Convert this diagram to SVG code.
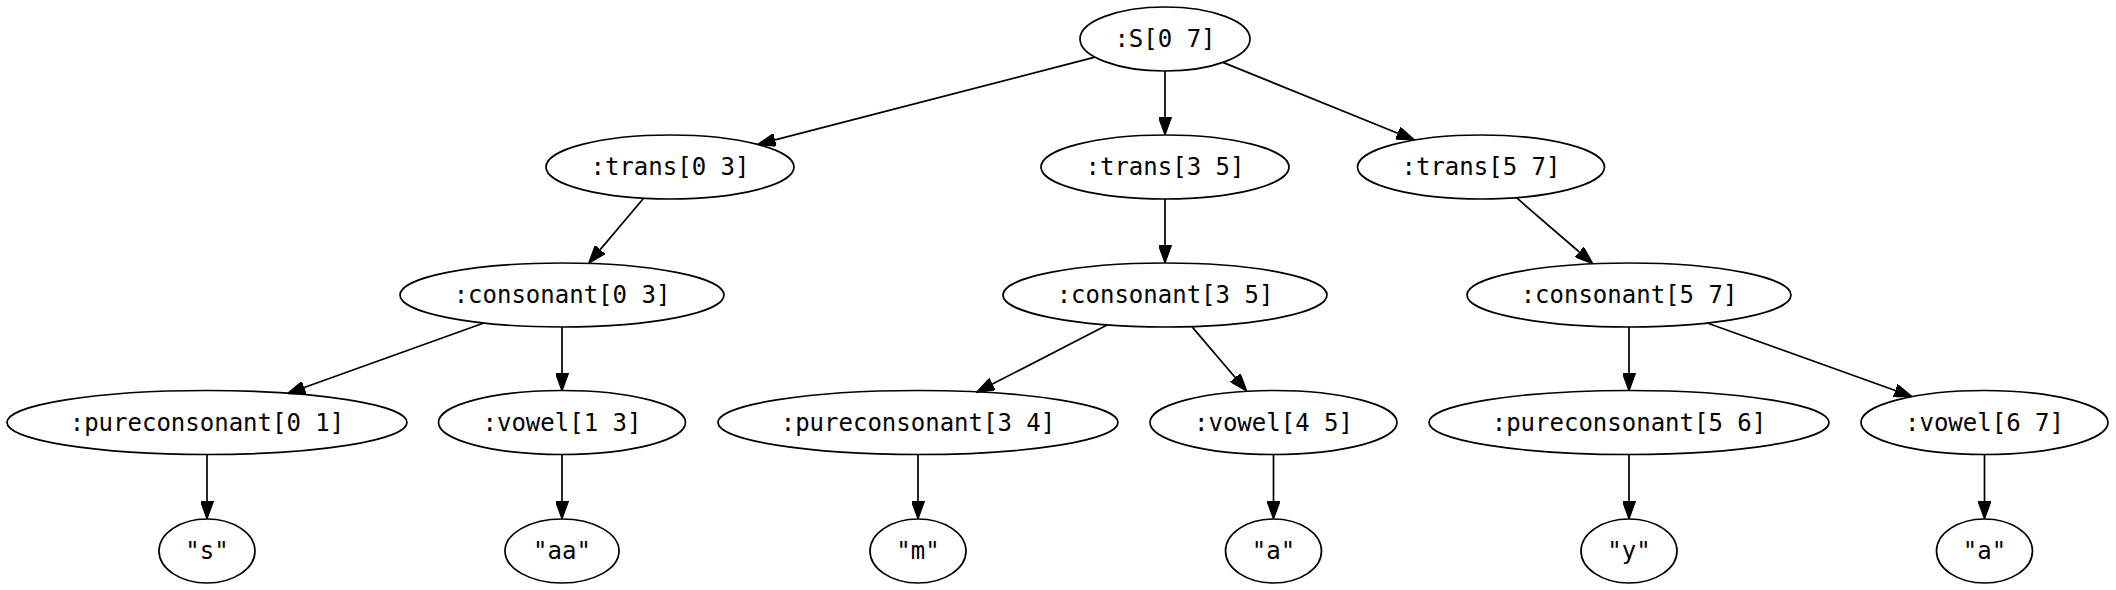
<svg xmlns="http://www.w3.org/2000/svg" width="2116" height="590" viewBox="0 0 2116 590">
<style>
.n ellipse{fill:none;stroke:#000;stroke-width:1.7}
.n text{font-family:"DejaVu Sans Mono",monospace;font-size:24px;text-anchor:middle;fill:#000}
#edges line{stroke:#000;stroke-width:1.7;marker-end:url(#ah)}
</style>
<defs>
<marker id="ah" viewBox="0 0 18 13" refX="0" refY="6.5" markerWidth="18" markerHeight="13" markerUnits="userSpaceOnUse" orient="auto">
<path d="M0,0 L18,6.5 L0,13 z" fill="#000" stroke="#000" stroke-width="1.2"/>
</marker>
</defs>
<rect width="2116" height="590" fill="#fff"/>
<g id="edges">
<line x1="1095" y1="57.1" x2="775" y2="139.9"/>
<line x1="1165" y1="71" x2="1165" y2="117"/>
<line x1="1222.9" y1="62.4" x2="1397.8" y2="133.2"/>
<line x1="643.6" y1="198.3" x2="600.2" y2="249.6"/>
<line x1="1165" y1="199" x2="1165" y2="245"/>
<line x1="1516.4" y1="197.7" x2="1579.3" y2="252"/>
<line x1="483.9" y1="323" x2="304.2" y2="387.5"/>
<line x1="562" y1="327" x2="562" y2="373"/>
<line x1="1107.1" y1="324.9" x2="992.4" y2="384.1"/>
<line x1="1191.9" y1="326.6" x2="1235.2" y2="377.5"/>
<line x1="1629" y1="327" x2="1629" y2="373"/>
<line x1="1707.2" y1="323" x2="1895.3" y2="390.5"/>
<line x1="207" y1="454.5" x2="207" y2="501"/>
<line x1="562" y1="454.5" x2="562" y2="501"/>
<line x1="918" y1="454.5" x2="918" y2="501"/>
<line x1="1273.5" y1="454.5" x2="1273.5" y2="501"/>
<line x1="1629" y1="454.5" x2="1629" y2="501"/>
<line x1="1984.5" y1="454.5" x2="1984.5" y2="501"/>
</g>
<g id="S" class="n"><ellipse cx="1165" cy="39" rx="85" ry="32"/><text x="1165" y="47">:S[0 7]</text></g>
<g id="t03" class="n"><ellipse cx="670" cy="167" rx="124" ry="32"/><text x="670" y="175">:trans[0 3]</text></g>
<g id="t35" class="n"><ellipse cx="1165" cy="167" rx="124" ry="32"/><text x="1165" y="175">:trans[3 5]</text></g>
<g id="t57" class="n"><ellipse cx="1481" cy="167" rx="123.5" ry="32"/><text x="1481" y="175">:trans[5 7]</text></g>
<g id="c03" class="n"><ellipse cx="562" cy="295" rx="162" ry="32"/><text x="562" y="303">:consonant[0 3]</text></g>
<g id="c35" class="n"><ellipse cx="1165" cy="295" rx="162" ry="32"/><text x="1165" y="303">:consonant[3 5]</text></g>
<g id="c57" class="n"><ellipse cx="1629" cy="295" rx="162" ry="32"/><text x="1629" y="303">:consonant[5 7]</text></g>
<g id="p01" class="n"><ellipse cx="207" cy="422.5" rx="200" ry="32"/><text x="207" y="430.5">:pureconsonant[0 1]</text></g>
<g id="v13" class="n"><ellipse cx="562" cy="422.5" rx="123.5" ry="32"/><text x="562" y="430.5">:vowel[1 3]</text></g>
<g id="p34" class="n"><ellipse cx="918" cy="422.5" rx="200" ry="32"/><text x="918" y="430.5">:pureconsonant[3 4]</text></g>
<g id="v45" class="n"><ellipse cx="1273.5" cy="422.5" rx="123.5" ry="32"/><text x="1273.5" y="430.5">:vowel[4 5]</text></g>
<g id="p56" class="n"><ellipse cx="1629" cy="422.5" rx="200" ry="32"/><text x="1629" y="430.5">:pureconsonant[5 6]</text></g>
<g id="v67" class="n"><ellipse cx="1984.5" cy="422.5" rx="123.5" ry="32"/><text x="1984.5" y="430.5">:vowel[6 7]</text></g>
<g id="ls" class="n"><ellipse cx="207" cy="551" rx="48" ry="32"/><text x="207" y="559">"s"</text></g>
<g id="laa" class="n"><ellipse cx="562" cy="551" rx="57" ry="32"/><text x="562" y="559">"aa"</text></g>
<g id="lm" class="n"><ellipse cx="918" cy="551" rx="48" ry="32"/><text x="918" y="559">"m"</text></g>
<g id="la1" class="n"><ellipse cx="1273.5" cy="551" rx="48" ry="32"/><text x="1273.5" y="559">"a"</text></g>
<g id="ly" class="n"><ellipse cx="1629" cy="551" rx="48" ry="32"/><text x="1629" y="559">"y"</text></g>
<g id="la2" class="n"><ellipse cx="1984.5" cy="551" rx="48" ry="32"/><text x="1984.5" y="559">"a"</text></g>
</svg>
